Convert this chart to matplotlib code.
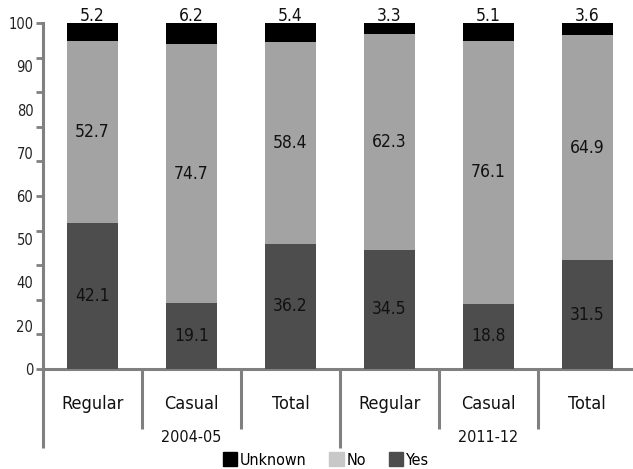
import matplotlib
matplotlib.use("Agg")
import matplotlib.pyplot as plt
import numpy as np
from matplotlib.patches import Patch

categories = ["Regular", "Casual", "Total", "Regular", "Casual", "Total"]
groups = ["2004-05", "2011-12"]
yes_vals = [42.1, 19.1, 36.2, 34.5, 18.8, 31.5]
no_vals = [52.7, 74.7, 58.4, 62.3, 76.1, 64.9]
unknown_vals = [5.2, 6.2, 5.4, 3.3, 5.1, 3.6]
ytick_vals = [0, 10, 20, 30, 40, 50, 60, 70, 80, 90, 100]
ylabel_texts = ["0", "20", "40", "50", "60", "70", "80", "90", "100"]

plt.rcParams['font.family'] = ['DejaVu Sans']
plt.rcParams['font.stretch'] = 'condensed'

c_yes = "#4d4d4d"
c_no = "#a3a3a3"
c_no_leg = "#c8c8c8"
c_unk = "#000000"
axis_col = "#808080"
txt_col = "#111111"

fig = plt.figure(figsize=(6.33, 4.69), dpi=100)
ax = fig.add_axes([43/633, 100/469, 1.006 - 43/633, 346/469])

x = np.arange(len(categories))
w = 0.52
yes = np.array(yes_vals)
no = np.array(no_vals)
unk = np.array(unknown_vals)
ax.bar(x, yes, w, color=c_yes, zorder=3)
ax.bar(x, no, w, bottom=yes, color=c_no, zorder=3)
ax.bar(x, unk, w, bottom=yes + no, color=c_unk, zorder=3)

fs_val = 12.5
for i in range(len(x)):
    ax.text(x[i], yes[i] / 2, f"{yes_vals[i]}", ha='center', va='center', fontsize=fs_val, color=txt_col, zorder=4)
    ax.text(x[i], yes[i] + no[i] / 2, f"{no_vals[i]}", ha='center', va='center', fontsize=fs_val, color=txt_col, zorder=4)
    ax.text(x[i], 101.9, f"{unknown_vals[i]}", ha='center', va='center', fontsize=fs_val, color=txt_col, zorder=2, clip_on=False)

ax.set_xlim(-0.5, 5.5)
ax.set_ylim(0, 100)

for s in ['top', 'right']:
    ax.spines[s].set_visible(False)
for s in ['left', 'bottom']:
    ax.spines[s].set_color(axis_col)
    ax.spines[s].set_linewidth(2.2)

ax.yaxis.remove_overlapping_locs = False
ax.set_xticks([])
ax.set_yticks(ytick_vals)
ax.set_yticklabels([])
ax.tick_params(axis='y', which='major', direction='out', length=5, width=2, color=axis_col)
label_pos = np.linspace(0, 100, len(ylabel_texts))
ax.set_yticks(label_pos, minor=True)
ax.set_yticklabels(ylabel_texts, minor=True)
ax.tick_params(axis='y', which='minor', length=0, pad=7, labelsize=10.5, labelcolor='#222222')

trans = ax.get_xaxis_transform()
seps = [-0.5, 0.5, 1.5, 2.5, 3.5, 4.5, 5.5]
for s in seps:
    is_group = s in (-0.5, 2.5, 5.5)
    yb = -0.228 if is_group else -0.172
    ax.plot([s, s], [0, yb], transform=trans, color=axis_col, lw=2.2, clip_on=False, solid_capstyle='butt')

for i, c in enumerate(categories):
    ax.text(x[i], -0.101, c, transform=trans, ha='center', va='center', fontsize=13, color=txt_col)
for g, gname in enumerate(groups):
    ax.text(1 + 3 * g, -0.199, gname, transform=trans, ha='center', va='center', fontsize=11.5, color=txt_col)

handles = [Patch(color=c_unk, label="Unknown"), Patch(color=c_no_leg, label="No"), Patch(color=c_yes, label="Yes")]
fig.legend(handles=handles, loc='center', bbox_to_anchor=(326/633, 9/469), ncol=3, frameon=False,
           fontsize=11.5, handlelength=0.9, handleheight=0.9, handletextpad=0.2, columnspacing=1.4,
           borderpad=0.0)

fig.savefig("out.png", dpi=100)
